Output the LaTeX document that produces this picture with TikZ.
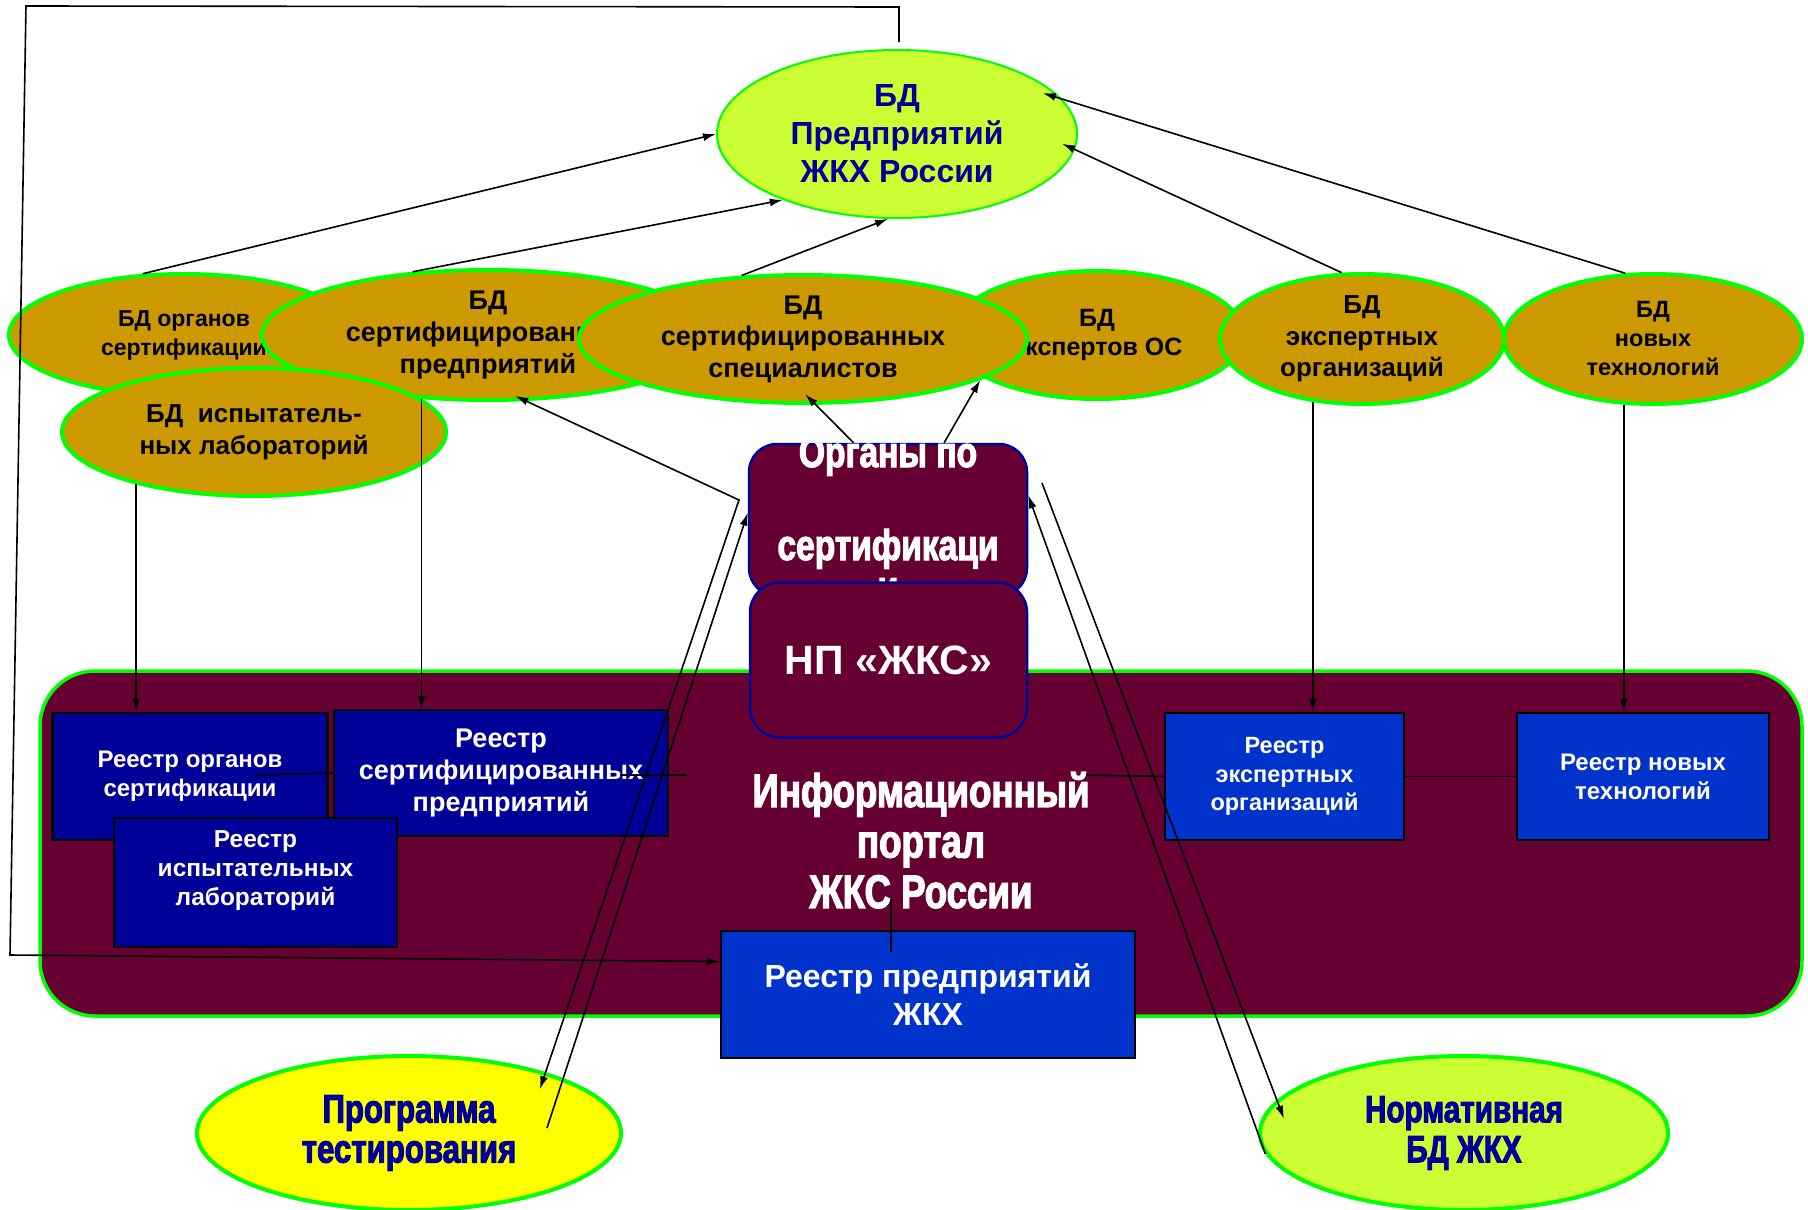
\documentclass[tikz,border=0pt]{standalone}
\usepackage{fontspec}
\setmainfont{Liberation Sans}
\newfontfamily\narrowfont{Liberation Sans}[FakeStretch=0.78,FakeBold=2.5]
\usetikzlibrary{shapes.geometric,arrows.meta}

\definecolor{portalcol}{HTML}{660033}
\definecolor{navycol}{HTML}{000099}
\definecolor{bluecol}{HTML}{0033CC}
\definecolor{goldcol}{HTML}{CC9900}
\definecolor{limecol}{HTML}{CCFF33}
\definecolor{greencol}{HTML}{00FF00}
\definecolor{yellowcol}{HTML}{FFFF00}

\newcommand{\fsz}[2]{\fontsize{#1}{#2}\selectfont}

\tikzset{
    >={Latex[length=13pt,width=8pt]},
    dbmain/.style={ellipse, fill=limecol, draw=greencol, line width=2pt, inner sep=0pt, align=center, text=navycol, font={\bfseries\fsz{32}{38}}},
    dbgold/.style={ellipse, fill=goldcol, draw=greencol, line width=4pt, inner sep=0pt, align=center},
    dbext/.style={ellipse, draw=greencol, line width=4pt, inner sep=0pt, align=center, text=navycol, font={\narrowfont\bfseries\fsz{40}{40}}},
    regbox/.style={rectangle, draw=black, line width=2.5pt, inner sep=0pt, align=center, text=white},
    npbox/.style={rectangle, rounded corners=28pt, fill=portalcol, draw=navycol, line width=2.5pt, inner sep=0pt},
    link/.style={line width=1.6pt},
}

\begin{document}
\begin{tikzpicture}[x=1pt, y=-1pt]
    \useasboundingbox (0,0) rectangle (1808,1210);

    \node[rectangle, rounded corners=55pt, fill=portalcol, draw=greencol, line width=3.5pt, minimum width=1762pt, minimum height=345pt, align=center, text=white, font={\narrowfont\bfseries\fsz{47}{50.5}}] (portal) at (921,843.5) {Информационный\\портал\\ЖКС России\\[-43.5pt]\mbox{}};

    \node[regbox, fill=navycol, minimum width=275pt, minimum height=127pt, font={\bfseries\fsz{24}{29}}] (regorg) at (190,776.5) {Реестр органов\\сертификации};
    \node[regbox, fill=navycol, minimum width=334pt, minimum height=126pt, font={\bfseries\fsz{27}{32}}] (regsert) at (501,773) {Реестр\\сертифицированных\\предприятий};
    \node[regbox, fill=navycol, minimum width=283pt, minimum height=129pt, font={\bfseries\fsz{24.5}{29}}] (reglab) at (255.5,882.5) {Реестр\\испытательных\\лабораторий\\\mbox{}};
    \node[regbox, fill=bluecol, minimum width=239pt, minimum height=127pt, font={\bfseries\fsz{23.5}{28.5}}] (regexp) at (1284.5,776.5) {Реестр\\экспертных\\организаций};
    \node[regbox, fill=bluecol, minimum width=252pt, minimum height=127pt, font={\bfseries\fsz{24}{29}}] (regnew) at (1643,776.5) {Реестр новых\\технологий};

    \node[npbox, minimum width=278pt, minimum height=152pt] (organy) at (888,520) {};
    \begin{scope}
        \clip[rounded corners=28pt] (organy.south west) rectangle (organy.north east);
        \node[anchor=base, text=white, font={\narrowfont\bfseries\fsz{43}{43}}] (organyA) at (888,467) {Органы по};
        \node[anchor=base, text=white, font={\narrowfont\bfseries\fsz{43}{43}}] (organyB) at (888,560) {сертификаци};
        \node[anchor=base, text=white, font={\narrowfont\bfseries\fsz{43}{43}}] (organyC) at (888,601) {и};
    \end{scope}
    \node[npbox, rounded corners=30pt, minimum width=277pt, minimum height=155pt, text=white, font={\bfseries\fsz{41}{41}}] (npzks) at (888.5,660) {НП «ЖКС»};

    \node[regbox, fill=bluecol, minimum width=414pt, minimum height=127pt, font={\bfseries\fsz{32}{38}}] (regzhkh) at (928,994.5) {Реестр предприятий\\ЖКХ};

    \node[dbmain, minimum width=360pt, minimum height=168pt] (bdtop) at (897,134) {БД\\Предприятий\\ЖКХ России};
    \node[dbgold, minimum width=350pt, minimum height=122pt, font={\bfseries\fsz{23}{29}}] (bdorg) at (184,335) {БД органов\\сертификации};
    \node[dbgold, minimum width=452pt, minimum height=130pt, font={\bfseries\fsz{27}{32}}] (bdpred) at (488,335) {БД\\сертифицированных\\предприятий};
    \node[dbgold, minimum width=294pt, minimum height=128pt, font={\bfseries\fsz{25}{29}}] (bdexpert) at (1097,335) {БД\\экспертов ОС};
    \node[dbgold, minimum width=448pt, minimum height=128pt, font={\bfseries\fsz{27}{31.5}}] (bdspec) at (803,339) {БД\\сертифицированных\\специалистов};
    \node[dbgold, minimum width=284pt, minimum height=130pt, font={\bfseries\fsz{26}{31.5}}] (bdexporg) at (1362,339) {БД\\экспертных\\организаций};
    \node[dbgold, minimum width=298pt, minimum height=130pt, font={\bfseries\fsz{23.5}{29}}] (bdtech) at (1653,339) {БД\\новых\\технологий};
    \node[dbgold, minimum width=384pt, minimum height=128pt, font={\bfseries\fsz{26}{32}}] (bdlab) at (254,432) {БД\ \ испытатель-\\ных лабораторий};

    \node[dbext, fill=yellowcol, minimum width=424pt, minimum height=154pt] (bdprog) at (409,1133) {Программа\\тестирования};
    \node[dbext, fill=limecol, minimum width=408pt, minimum height=154pt, font={\narrowfont\bfseries\fsz{38}{40}}] (bdnorm) at (1464,1133) {Нормативная\\БД ЖКХ};

    \draw[link, ->] (bdorg.124) -- (bdtop.180);
    \draw[link, ->] (bdpred.140) -- (bdtop.210);
    \draw[link, ->] (bdspec.134) -- (bdtop.264);
    \draw[link, ->, shorten >=-14pt] (bdexporg.107) -- (bdtop.355);
    \draw[link, ->, shorten >=-20pt] (bdtech.113) -- (bdtop.12);

    \draw[link, ->] (bdlab.204) -- (bdlab.204 |- regorg.north);
    \draw[link, ->] (bdpred.224) -- (bdpred.224 |- regsert.north);
    \draw[link, ->] (bdexporg.232) -- (bdexporg.232 |- regexp.north);
    \draw[link, ->] (bdtech.246) -- (bdtech.246 |- regnew.north);

    \draw[link, ->, shorten >=-15pt] (organy.114) -- (bdspec.281);
    \draw[link, ->] (organy.54) -- (bdspec.347);

    \coordinate (progbend) at (739,500);
    \draw[link, <->, shorten <=-12pt, shorten >=-18pt] (bdpred.300) -- (progbend) -- (bdprog.24);
    \coordinate (progout) at (547,1128);
    \draw[link, ->] (progout) -- (organy.177);
    \draw[link, ->] (bdnorm.186) -- (organy.10);
    \coordinate (normin) at (1042,483);
    \draw[link, ->, shorten >=-20pt] (normin) -- (bdnorm.170);

    \coordinate (fbstart) at (899,42);
    \coordinate (fbtop) at (899,7);
    \coordinate (fbleft) at (26,6);
    \coordinate (fbbottom) at (10,955);
    \draw[link, ->] (fbstart) -- (fbtop) -- (fbleft) -- (fbbottom) -- (regzhkh.171);

    \coordinate (orgline) at (255,775);
    \draw[link] (orgline) -- (regsert.west);
    \coordinate (sertA) at (620,775);
    \coordinate (sertB) at (687,775);
    \draw[link] (sertA) -- (sertB);
    \coordinate (portalR) at (1086,775);
    \draw[link] (portalR) -- (regexp.west);
    \draw[link] (regexp.east) -- (regnew.west);
    \coordinate (portalB) at (891,899);
    \coordinate (portalC) at (891,952);
    \draw[link] (portalB) -- (portalC);
\end{tikzpicture}
\end{document}
